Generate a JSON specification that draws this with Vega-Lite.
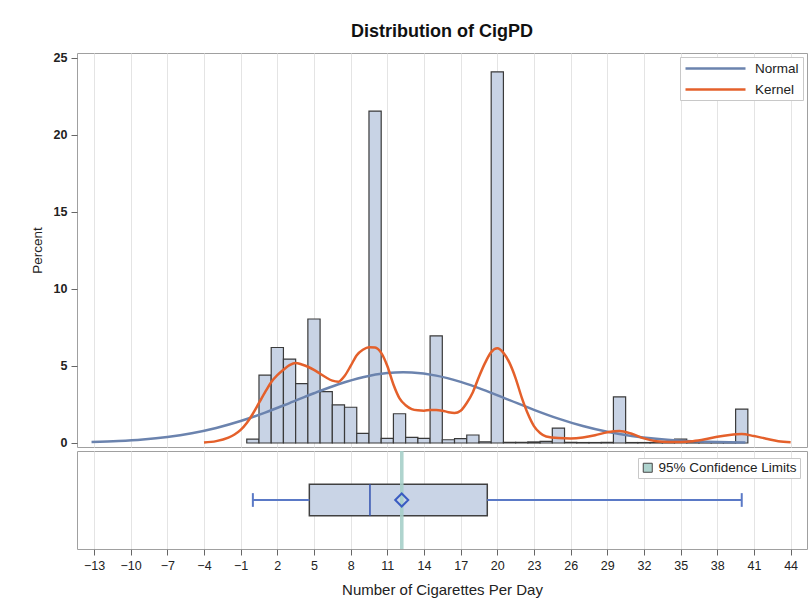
{
  "$schema": "https://vega.github.io/schema/vega-lite/v6.json",
  "autosize": {"type": "pad"},
  "padding": {"left": 29, "top": 22, "right": 0, "bottom": 0},
  "background": "white",
  "config": {
    "font": "Liberation Sans",
    "view": {"stroke": "#a0a0a0", "strokeWidth": 1},
    "axis": {"labelFont": "Liberation Sans", "titleFont": "Liberation Sans", "labelColor": "#222", "titleColor": "#222", "tickColor": "#666", "gridColor": "#e4e4e4", "domain": false, "labelOverlap": false},
    "legend": {"labelFont": "Liberation Sans", "labelColor": "#222"}
  },
  "datasets": {
    "hist": [
      {"b0": -0.5, "b1": 0.5, "pct": 0.25},
      {"b0": 0.5, "b1": 1.5, "pct": 4.4},
      {"b0": 1.5, "b1": 2.5, "pct": 6.2},
      {"b0": 2.5, "b1": 3.5, "pct": 5.45},
      {"b0": 3.5, "b1": 4.5, "pct": 3.85},
      {"b0": 4.5, "b1": 5.5, "pct": 8.05},
      {"b0": 5.5, "b1": 6.5, "pct": 3.33},
      {"b0": 6.5, "b1": 7.5, "pct": 2.47},
      {"b0": 7.5, "b1": 8.5, "pct": 2.32},
      {"b0": 8.5, "b1": 9.5, "pct": 0.63},
      {"b0": 9.5, "b1": 10.5, "pct": 21.55},
      {"b0": 10.5, "b1": 11.5, "pct": 0.3},
      {"b0": 11.5, "b1": 12.5, "pct": 1.9},
      {"b0": 12.5, "b1": 13.5, "pct": 0.37},
      {"b0": 13.5, "b1": 14.5, "pct": 0.3},
      {"b0": 14.5, "b1": 15.5, "pct": 6.95},
      {"b0": 15.5, "b1": 16.5, "pct": 0.21},
      {"b0": 16.5, "b1": 17.5, "pct": 0.28},
      {"b0": 17.5, "b1": 18.5, "pct": 0.52},
      {"b0": 18.5, "b1": 19.5, "pct": 0.08},
      {"b0": 19.5, "b1": 20.5, "pct": 24.1},
      {"b0": 20.5, "b1": 21.5, "pct": 0.05},
      {"b0": 21.5, "b1": 22.5, "pct": 0.05},
      {"b0": 22.5, "b1": 23.5, "pct": 0.07},
      {"b0": 23.5, "b1": 24.5, "pct": 0.1},
      {"b0": 24.5, "b1": 25.5, "pct": 0.97},
      {"b0": 25.5, "b1": 26.5, "pct": 0.04},
      {"b0": 26.5, "b1": 27.5, "pct": 0.03},
      {"b0": 27.5, "b1": 28.5, "pct": 0.03},
      {"b0": 28.5, "b1": 29.5, "pct": 0.04},
      {"b0": 29.5, "b1": 30.5, "pct": 2.99},
      {"b0": 30.5, "b1": 31.5, "pct": 0.03},
      {"b0": 31.5, "b1": 32.5, "pct": 0.03},
      {"b0": 32.5, "b1": 33.5, "pct": 0.03},
      {"b0": 33.5, "b1": 34.5, "pct": 0.03},
      {"b0": 34.5, "b1": 35.5, "pct": 0.25},
      {"b0": 35.5, "b1": 36.5, "pct": 0.03},
      {"b0": 36.5, "b1": 37.5, "pct": 0.03},
      {"b0": 37.5, "b1": 38.5, "pct": 0.03},
      {"b0": 38.5, "b1": 39.5, "pct": 0.03},
      {"b0": 39.5, "b1": 40.5, "pct": 2.2}
    ],
    "curves": [
      {"series": "Normal", "x": -13.2, "y": 0.062},
      {"series": "Normal", "x": -11, "y": 0.127},
      {"series": "Normal", "x": -9, "y": 0.229},
      {"series": "Normal", "x": -7, "y": 0.392},
      {"series": "Normal", "x": -5, "y": 0.636},
      {"series": "Normal", "x": -3, "y": 0.978},
      {"series": "Normal", "x": -1, "y": 1.428},
      {"series": "Normal", "x": 1, "y": 1.975},
      {"series": "Normal", "x": 3, "y": 2.593},
      {"series": "Normal", "x": 5, "y": 3.228},
      {"series": "Normal", "x": 7, "y": 3.813},
      {"series": "Normal", "x": 9, "y": 4.272},
      {"series": "Normal", "x": 11, "y": 4.539},
      {"series": "Normal", "x": 12.3, "y": 4.59},
      {"series": "Normal", "x": 13, "y": 4.575},
      {"series": "Normal", "x": 15, "y": 4.374},
      {"series": "Normal", "x": 17, "y": 3.967},
      {"series": "Normal", "x": 19, "y": 3.412},
      {"series": "Normal", "x": 21, "y": 2.784},
      {"series": "Normal", "x": 23, "y": 2.155},
      {"series": "Normal", "x": 25, "y": 1.582},
      {"series": "Normal", "x": 27, "y": 1.101},
      {"series": "Normal", "x": 29, "y": 0.728},
      {"series": "Normal", "x": 31, "y": 0.456},
      {"series": "Normal", "x": 33, "y": 0.271},
      {"series": "Normal", "x": 35, "y": 0.153},
      {"series": "Normal", "x": 37, "y": 0.082},
      {"series": "Normal", "x": 39, "y": 0.041},
      {"series": "Normal", "x": 40.3, "y": 0.026},
      {"series": "Kernel", "x": -4, "y": 0.03},
      {"series": "Kernel", "x": -3, "y": 0.12},
      {"series": "Kernel", "x": -2, "y": 0.35},
      {"series": "Kernel", "x": -1.5, "y": 0.55},
      {"series": "Kernel", "x": -1, "y": 0.85},
      {"series": "Kernel", "x": -0.5, "y": 1.3},
      {"series": "Kernel", "x": 0, "y": 1.9},
      {"series": "Kernel", "x": 0.5, "y": 2.6},
      {"series": "Kernel", "x": 1, "y": 3.3},
      {"series": "Kernel", "x": 1.5, "y": 3.95},
      {"series": "Kernel", "x": 2, "y": 4.4},
      {"series": "Kernel", "x": 2.5, "y": 4.75},
      {"series": "Kernel", "x": 3, "y": 5.05},
      {"series": "Kernel", "x": 3.5, "y": 5.2},
      {"series": "Kernel", "x": 4, "y": 5.1},
      {"series": "Kernel", "x": 4.5, "y": 4.95},
      {"series": "Kernel", "x": 5, "y": 4.75},
      {"series": "Kernel", "x": 5.5, "y": 4.5},
      {"series": "Kernel", "x": 6, "y": 4.25},
      {"series": "Kernel", "x": 6.5, "y": 4.05},
      {"series": "Kernel", "x": 7, "y": 3.98},
      {"series": "Kernel", "x": 7.5, "y": 4.35},
      {"series": "Kernel", "x": 8, "y": 5.0},
      {"series": "Kernel", "x": 8.5, "y": 5.7},
      {"series": "Kernel", "x": 9, "y": 6.05},
      {"series": "Kernel", "x": 9.5, "y": 6.22},
      {"series": "Kernel", "x": 10, "y": 6.2},
      {"series": "Kernel", "x": 10.5, "y": 5.85},
      {"series": "Kernel", "x": 11, "y": 5.0},
      {"series": "Kernel", "x": 11.5, "y": 3.8},
      {"series": "Kernel", "x": 12, "y": 2.9},
      {"series": "Kernel", "x": 12.5, "y": 2.45},
      {"series": "Kernel", "x": 13, "y": 2.2},
      {"series": "Kernel", "x": 13.5, "y": 2.12},
      {"series": "Kernel", "x": 14, "y": 2.1},
      {"series": "Kernel", "x": 14.5, "y": 2.15},
      {"series": "Kernel", "x": 15, "y": 2.15},
      {"series": "Kernel", "x": 15.5, "y": 2.1},
      {"series": "Kernel", "x": 16, "y": 2.0},
      {"series": "Kernel", "x": 16.5, "y": 1.95},
      {"series": "Kernel", "x": 17, "y": 2.1},
      {"series": "Kernel", "x": 17.5, "y": 2.6},
      {"series": "Kernel", "x": 18, "y": 3.3},
      {"series": "Kernel", "x": 18.5, "y": 4.3},
      {"series": "Kernel", "x": 19, "y": 5.2},
      {"series": "Kernel", "x": 19.5, "y": 5.9},
      {"series": "Kernel", "x": 20, "y": 6.15},
      {"series": "Kernel", "x": 20.5, "y": 5.85},
      {"series": "Kernel", "x": 21, "y": 5.2},
      {"series": "Kernel", "x": 21.5, "y": 4.2},
      {"series": "Kernel", "x": 22, "y": 2.95},
      {"series": "Kernel", "x": 22.5, "y": 1.9},
      {"series": "Kernel", "x": 23, "y": 1.1},
      {"series": "Kernel", "x": 23.5, "y": 0.65},
      {"series": "Kernel", "x": 24, "y": 0.42},
      {"series": "Kernel", "x": 25, "y": 0.32},
      {"series": "Kernel", "x": 26, "y": 0.3},
      {"series": "Kernel", "x": 27, "y": 0.36},
      {"series": "Kernel", "x": 28, "y": 0.5},
      {"series": "Kernel", "x": 29, "y": 0.7},
      {"series": "Kernel", "x": 30, "y": 0.78},
      {"series": "Kernel", "x": 31, "y": 0.6},
      {"series": "Kernel", "x": 32, "y": 0.3},
      {"series": "Kernel", "x": 33, "y": 0.12},
      {"series": "Kernel", "x": 34, "y": 0.07},
      {"series": "Kernel", "x": 35, "y": 0.07},
      {"series": "Kernel", "x": 36, "y": 0.12},
      {"series": "Kernel", "x": 37, "y": 0.24},
      {"series": "Kernel", "x": 38, "y": 0.4},
      {"series": "Kernel", "x": 39, "y": 0.52},
      {"series": "Kernel", "x": 40, "y": 0.58},
      {"series": "Kernel", "x": 41, "y": 0.45},
      {"series": "Kernel", "x": 42, "y": 0.28},
      {"series": "Kernel", "x": 43, "y": 0.12},
      {"series": "Kernel", "x": 44, "y": 0.05}
    ],
    "box": [
      {"min": 0, "q1": 4.62, "med": 9.58, "q3": 19.18, "max": 40, "mean": 12.18, "cilo": 12.04, "cihi": 12.33}
    ]
  },
  "spacing": 0,
  "resolve": {"legend": {"color": "independent", "fill": "independent"}},
  "vconcat": [
    {
      "width": 730,
      "height": 394,
      "title": {"text": "Distribution of CigPD", "fontSize": 18, "font": "Liberation Sans", "fontWeight": "bold", "color": "#111", "anchor": "middle", "frame": "group", "baseline": "alphabetic", "offset": -3},
      "layer": [
        {
          "data": {"name": "hist"},
          "mark": {"type": "rect", "fill": "#c8d3e5", "stroke": "#3a3a3a", "strokeWidth": 1.2},
          "encoding": {
            "x": {"field": "b0", "type": "quantitative", "scale": {"domain": [-14.39, 45.34], "nice": false, "zero": false},
                  "axis": {"values": [-13,-10,-7,-4,-1,2,5,8,11,14,17,20,23,26,29,32,35,38,41,44], "tickCount": 30, "labels": false, "ticks": false, "domain": false, "title": null, "grid": true}},
            "x2": {"field": "b1"},
            "y": {"field": "pct", "type": "quantitative", "scale": {"domain": [-0.26, 25.32], "nice": false, "zero": false},
                  "axis": {"values": [0,5,10,15,20,25], "title": "Percent", "titleFontSize": 13.5, "titleFontWeight": "normal", "labelFontSize": 12.5, "labelFontWeight": "bold", "tickSize": 6, "labelPadding": 4, "titlePadding": 9, "grid": false}},
            "y2": {"datum": 0}
          }
        },
        {
          "data": {"name": "curves"},
          "mark": {"type": "line", "strokeWidth": 2.5, "interpolate": "monotone"},
          "encoding": {
            "x": {"field": "x", "type": "quantitative"},
            "y": {"field": "y", "type": "quantitative"},
            "color": {"field": "series", "type": "nominal", "sort": ["Normal", "Kernel"],
                      "scale": {"domain": ["Normal", "Kernel"], "range": ["#6b83ae", "#e4602b"]},
                      "legend": {"title": null, "orient": "top-right", "offset": 4, "labelFontSize": 13.5, "symbolType": "M-1,0H9", "symbolSize": 144, "symbolStrokeWidth": 2.5, "strokeColor": "#c8c8c8", "fillColor": "white", "padding": 4, "rowPadding": 7, "labelOffset": 56}}
          }
        }
      ]
    },
    {
      "width": 730,
      "height": 98,
      "data": {"name": "box"},
      "layer": [
        {
          "mark": {"type": "rect", "fill": "#c9d4e6", "stroke": "#404040", "strokeWidth": 1.5},
          "encoding": {
            "x": {"field": "q1", "type": "quantitative", "scale": {"domain": [-14.39, 45.34], "nice": false, "zero": false},
                  "axis": {"values": [-13,-10,-7,-4,-1,2,5,8,11,14,17,20,23,26,29,32,35,38,41,44], "tickCount": 30, "labelOverlap": false, "title": "Number of Cigarettes Per Day", "titleFontSize": 15, "titleFontWeight": "normal", "labelFontSize": 12.5, "tickSize": 6, "labelPadding": 4, "titlePadding": 11, "grid": true}},
            "x2": {"field": "q3"},
            "y": {"datum": 0.34, "type": "quantitative", "scale": {"domain": [0, 1], "nice": false, "zero": false}, "axis": null},
            "y2": {"datum": 0.66}
          }
        },
        {
          "mark": {"type": "rect", "opacity": 0.9},
          "encoding": {
            "x": {"field": "cilo", "type": "quantitative"},
            "x2": {"field": "cihi"},
            "y": {"datum": 0, "type": "quantitative"},
            "y2": {"datum": 1},
            "fill": {"datum": "95% Confidence Limits", "type": "nominal", "scale": {"range": ["#a6cfc9"]},
                     "legend": {"title": null, "orient": "top-right", "offset": 7, "labelFontSize": 13.5, "symbolType": "square", "symbolSize": 81, "symbolStrokeColor": "#333", "symbolStrokeWidth": 1, "strokeColor": "#c8c8c8", "fillColor": "white", "padding": 3}}
          }
        },
        {
          "mark": {"type": "rule", "color": "#3352b0", "strokeWidth": 1.5},
          "encoding": {"x": {"field": "med", "type": "quantitative"}, "y": {"datum": 0.34, "type": "quantitative"}, "y2": {"datum": 0.66}}
        },
        {
          "mark": {"type": "rule", "color": "#5a79c6", "strokeWidth": 2},
          "encoding": {"x": {"field": "min", "type": "quantitative"}, "x2": {"field": "q1"}, "y": {"datum": 0.5, "type": "quantitative"}}
        },
        {
          "mark": {"type": "rule", "color": "#5a79c6", "strokeWidth": 2},
          "encoding": {"x": {"field": "q3", "type": "quantitative"}, "x2": {"field": "max"}, "y": {"datum": 0.5, "type": "quantitative"}}
        },
        {
          "mark": {"type": "rule", "color": "#5a79c6", "strokeWidth": 2},
          "encoding": {"x": {"field": "min", "type": "quantitative"}, "y": {"datum": 0.43, "type": "quantitative"}, "y2": {"datum": 0.57}}
        },
        {
          "mark": {"type": "rule", "color": "#5a79c6", "strokeWidth": 2},
          "encoding": {"x": {"field": "max", "type": "quantitative"}, "y": {"datum": 0.43, "type": "quantitative"}, "y2": {"datum": 0.57}}
        },
        {
          "mark": {"type": "point", "shape": "diamond", "filled": false, "stroke": "#3a5cc2", "strokeWidth": 2, "size": 170, "opacity": 1},
          "encoding": {"x": {"field": "mean", "type": "quantitative"}, "y": {"datum": 0.5, "type": "quantitative"}}
        }
      ]
    }
  ]
}
